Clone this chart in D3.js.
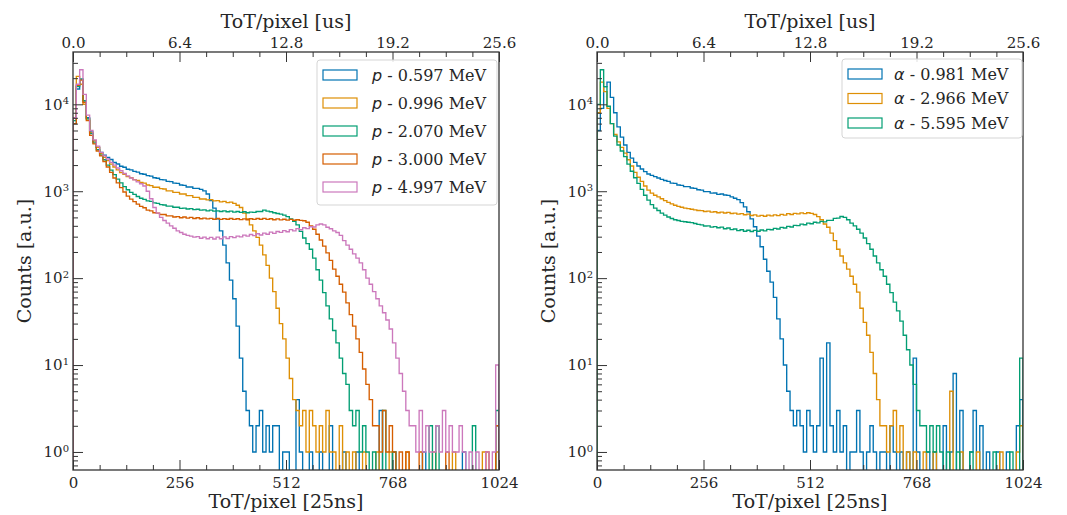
<!DOCTYPE html>
<html>
<head>
<meta charset="utf-8">
<script src="https://cdn.jsdelivr.net/npm/d3@7"></script>
<style>
body { margin: 0; background: #fff; }
text { font-family: "DejaVu Serif", serif; fill: #262626; }
</style>
</head>
<body>
<svg id="chart" width="1067" height="515"></svg>
<script>
// histogram bins are 8 ToT units wide, 128 bins from 0 to 1024
var BIN_WIDTH = 8;
var xTicks = [0, 256, 512, 768, 1024];
var xTopLabels = ["0.0", "6.4", "12.8", "19.2", "25.6"];
var yTicks = [1, 10, 100, 1000, 10000];

// protons (left panel)
var p0597 = [
    6000, 15000, 19500, 11000, 7000, 4800, 3800, 3200, 2800, 2600,
    2450, 2320, 2140, 2060, 1940, 1890, 1790, 1760, 1690, 1660,
    1590, 1570, 1510, 1490, 1430, 1410, 1360, 1350, 1300, 1290,
    1240, 1230, 1180, 1170, 1120, 1120, 1080, 1080, 1050, 1010,
    930, 780, 640, 480, 350, 240, 150, 95, 58, 28,
    12, 5, 3, 2, 1, 2, 3, 1, 2, 1,
    2, 2, 0, 1, 1, 0, 0, 4, 1, 0,
    0, 1, 0, 0, 1, 0, 0, 2, 0, 0,
    0, 1, 0, 0, 0, 1, 0, 0, 0, 0,
    0, 0, 3, 0, 0, 0, 1, 0, 0, 0,
    0, 0, 0, 0, 0, 1, 0, 0, 0, 0,
    0, 0, 0, 0, 0, 0, 0, 1, 0, 0,
    0, 0, 0, 0, 0, 0, 0, 2];
var p0996 = [
    7000, 21000, 17000, 10000, 6800, 4700, 3800, 3200, 2700, 2450,
    2250, 2050, 1900, 1760, 1640, 1570, 1470, 1430, 1360, 1330,
    1260, 1240, 1180, 1160, 1110, 1110, 1070, 1060, 1010, 1010,
    970, 970, 930, 930, 890, 890, 850, 850, 815, 815,
    795, 800, 775, 780, 755, 765, 740, 750, 725, 690,
    650, 560, 480, 410, 350, 295, 240, 185, 140, 100,
    70, 45, 30, 20, 12, 7, 4, 3, 2, 3,
    1, 3, 2, 1, 2, 1, 3, 1, 1, 0,
    2, 0, 1, 0, 1, 0, 0, 1, 0, 0,
    0, 1, 0, 0, 0, 1, 0, 0, 0, 0,
    1, 0, 0, 0, 0, 0, 0, 0, 1, 0,
    0, 0, 0, 0, 1, 0, 0, 0, 0, 0,
    0, 0, 0, 1, 0, 0, 0, 1];
var p2070 = [
    6500, 16000, 19500, 11000, 6800, 4600, 3600, 3000, 2600, 2300,
    2000, 1750, 1550, 1380, 1250, 1130, 1040, 970, 920, 870,
    830, 805, 775, 765, 735, 725, 700, 695, 675, 675,
    655, 655, 635, 640, 625, 630, 615, 620, 605, 610,
    595, 605, 590, 595, 585, 595, 580, 590, 575, 585,
    570, 580, 565, 575, 570, 585, 585, 605, 590, 580,
    565, 555, 545, 530, 510, 480, 450, 410, 345, 290,
    250, 215, 170, 125, 95, 68, 48, 34, 25, 18,
    12, 8, 6, 3, 2, 3, 1, 2, 1, 0,
    1, 0, 0, 3, 0, 0, 1, 0, 0, 0,
    0, 0, 0, 0, 0, 0, 0, 2, 0, 2,
    0, 0, 0, 0, 0, 0, 0, 0, 0, 0,
    2, 0, 0, 0, 0, 0, 0, 3];
var p3000 = [
    6000, 16500, 19000, 10500, 6500, 4400, 3500, 2900, 2550, 2200,
    1900, 1650, 1420, 1250, 1100, 980, 880, 810, 760, 710,
    670, 645, 605, 595, 565, 560, 540, 540, 520, 520,
    505, 510, 495, 505, 490, 500, 485, 495, 482, 490,
    480, 488, 476, 486, 474, 484, 476, 486, 474, 482,
    472, 480, 470, 482, 474, 486, 476, 488, 474, 482,
    470, 480, 468, 476, 466, 474, 464, 470, 462, 458,
    440, 400, 365, 320, 275, 234, 195, 160, 127, 105,
    85, 69, 52, 38, 28, 20, 14, 9, 6, 4,
    2, 2, 1, 3, 1, 2, 1, 0, 1, 0,
    1, 0, 0, 0, 1, 0, 0, 0, 0, 0,
    0, 0, 1, 0, 0, 0, 0, 0, 0, 0,
    0, 0, 0, 0, 1, 0, 0, 2];
var p4997 = [
    7000, 17000, 25000, 13000, 7500, 5000, 3900, 3300, 2800, 2550,
    2350, 2150, 2000, 1850, 1720, 1600, 1500, 1420, 1350, 1280,
    1220, 1150, 1000, 820, 650, 560, 500, 460, 430, 400,
    375, 350, 335, 320, 310, 305, 296, 300, 288, 296,
    284, 294, 282, 296, 284, 298, 286, 300, 292, 304,
    298, 312, 304, 318, 308, 324, 314, 330, 320, 338,
    328, 344, 336, 352, 342, 362, 350, 372, 360, 380,
    372, 390, 388, 410, 420, 410, 385, 370, 350, 335,
    310, 270, 240, 215, 190, 170, 150, 125, 100, 85,
    70, 58, 48, 40, 33, 26, 18, 12, 8, 5,
    3, 2, 2, 1, 3, 1, 2, 1, 1, 2,
    1, 3, 1, 2, 1, 1, 2, 1, 0, 1,
    0, 1, 0, 0, 1, 0, 1, 10];

// alphas (right panel)
var a0981 = [
    5000, 9000, 16000, 18000, 12000, 8000, 5500, 4200, 3400, 2800,
    2400, 2150, 1950, 1800, 1680, 1580, 1520, 1470, 1420, 1370,
    1330, 1300, 1240, 1230, 1180, 1170, 1130, 1130, 1090, 1080,
    1040, 1030, 990, 990, 950, 955, 920, 930, 905, 895,
    860, 830, 800, 740, 660, 580, 480, 390, 305, 230,
    165, 120, 90, 60, 34, 20, 10, 5, 3, 2,
    3, 2, 1, 3, 2, 1, 2, 12, 1, 18,
    2, 1, 3, 1, 2, 0, 1, 1, 3, 1,
    0, 1, 2, 1, 0, 1, 1, 0, 2, 1,
    0, 1, 0, 1, 0, 12, 1, 0, 0, 1,
    0, 1, 0, 0, 2, 0, 1, 8, 0, 3,
    0, 0, 1, 3, 0, 2, 0, 1, 0, 0,
    1, 0, 0, 1, 0, 0, 2, 4];
var a2966 = [
    8000, 18000, 14000, 9000, 6000, 4500, 3700, 3200, 2750, 2300,
    1950, 1650, 1450, 1300, 1150, 1030, 950, 900, 860, 820,
    780, 745, 715, 690, 670, 655, 640, 630, 620, 610,
    600, 598, 585, 590, 575, 580, 566, 574, 562, 570,
    554, 560, 545, 552, 536, 545, 526, 535, 518, 528,
    516, 530, 520, 534, 524, 542, 532, 552, 540, 556,
    548, 564, 552, 566, 556, 540, 510, 470, 420, 385,
    330, 270, 215, 180, 150, 127, 105, 85, 69, 45,
    31, 22, 14, 8, 4, 2, 2, 1, 2, 3,
    1, 2, 0, 1, 0, 1, 0, 0, 1, 0,
    0, 1, 0, 0, 0, 0, 5, 0, 0, 1,
    0, 0, 0, 0, 1, 0, 0, 0, 0, 0,
    0, 1, 0, 0, 0, 0, 1, 2];
var a5595 = [
    10000, 25000, 16000, 9500, 6000, 4300, 3400, 2900, 2500, 2050,
    1700, 1430, 1230, 1050, 900, 790, 700, 640, 600, 560,
    530, 505, 485, 470, 460, 450, 445, 440, 435, 425,
    415, 410, 398, 400, 386, 392, 380, 386, 370, 378,
    362, 368, 352, 360, 346, 356, 344, 354, 346, 358,
    350, 364, 360, 374, 368, 384, 378, 394, 388, 404,
    402, 418, 412, 430, 422, 440, 432, 450, 444, 462,
    462, 488, 490, 512, 500, 470, 430, 400, 365, 330,
    290, 250, 215, 180, 150, 125, 105, 85, 68, 53,
    42, 32, 22, 15, 10, 6, 3, 2, 2, 1,
    2, 1, 2, 1, 0, 1, 0, 0, 1, 0,
    0, 0, 1, 0, 0, 0, 0, 0, 0, 1,
    0, 0, 0, 0, 1, 0, 0, 12];

var protonLabels = ["0.597", "0.996", "2.070", "3.000", "4.997"];
var alphaLabels = ["0.981", "2.966", "5.595"];
var palette = ["#0173b2", "#de8f05", "#029e73", "#d55e00", "#cc78bc"];

var H = 418, W = 426, TOP = 52;
var svg = d3.select("#chart");

function stepPath(values, x, y) {
    // matplotlib-like histtype="step" outline, zero bins drop below the frame
    var yv = function(v) { return v > 0 ? y(v) : H + 20; };
    var p = "M" + x(0) + "," + (H + 20);
    for (var i = 0; i < values.length; i++) {
        p += "L" + x(i * BIN_WIDTH) + "," + yv(values[i]);
        p += "L" + x((i + 1) * BIN_WIDTH) + "," + yv(values[i]);
    }
    p += "L" + x(values.length * BIN_WIDTH) + "," + (H + 20);
    return p;
}

function drawPanel(cfg) {
    var g = svg.append("g").attr("transform", "translate(" + cfg.left + "," + TOP + ")");

    var x = d3.scaleLinear().domain([0, 1024]).range([0, W]);
    var y = d3.scaleLog().domain([0.62, 40000]).range([H, 0]);

    g.append("clipPath").attr("id", "clip" + cfg.id)
        .append("rect").attr("width", W).attr("height", H);

    // histograms
    g.append("g").attr("clip-path", "url(#clip" + cfg.id + ")")
        .selectAll("path")
        .data(cfg.series)
        .enter()
        .append("path")
        .attr("d", function(d) { return stepPath(d, x, y); })
        .attr("fill", "none")
        .attr("stroke", function(d, i) { return palette[i]; })
        .attr("stroke-width", 1.35)
        .attr("stroke-linejoin", "miter");

    var minorX = d3.range(0, 1025, 64).filter(function(v) { return v % 256 != 0; });
    var minorY = [];
    for (var k = -1; k <= 4; k++) {
        for (var m = 2; m <= 9; m++) {
            var v = m * Math.pow(10, k);
            if (v > 0.62 && v < 40000) minorY.push(v);
        }
    }

    // bottom axis
    g.append("g").attr("class", "axis").attr("transform", "translate(0," + H + ")")
        .call(d3.axisBottom(x).tickValues(xTicks).tickSize(-10).tickPadding(7).tickFormat(d3.format("d")));
    g.append("g").attr("class", "axis").attr("transform", "translate(0," + H + ")")
        .call(d3.axisBottom(x).tickValues(minorX).tickSize(-5).tickFormat(""));

    // top axis in microseconds (25 ns per count)
    g.append("g").attr("class", "axis")
        .call(d3.axisTop(x).tickValues(xTicks).tickSize(-10).tickPadding(4)
            .tickFormat(function(d, i) { return xTopLabels[i]; }));
    g.append("g").attr("class", "axis")
        .call(d3.axisTop(x).tickValues(minorX).tickSize(-5).tickFormat(""));

    // left log axis
    var yAxis = g.append("g").attr("class", "axis")
        .call(d3.axisLeft(y).tickValues(yTicks).tickSize(-10).tickPadding(4).tickFormat(""));
    g.append("g").attr("class", "axis")
        .call(d3.axisLeft(y).tickValues(minorY).tickSize(-5).tickFormat(""));

    yAxis.selectAll(".tick text")
        .attr("dy", "0.32em")
        .each(function(d) {
            var t = d3.select(this);
            t.text("10");
            t.append("tspan").attr("dy", "-0.55em").attr("font-size", "10px")
                .text(Math.round(Math.log10(d)));
        });

    g.selectAll(".axis .domain").remove();
    g.selectAll(".axis line").attr("stroke", "#333").attr("stroke-width", 1);
    g.selectAll(".axis text").attr("font-size", "15px").attr("font-family", "DejaVu Serif").attr("fill", "#262626");

    // frame
    g.append("rect").attr("width", W).attr("height", H)
        .attr("fill", "none").attr("stroke", "#333").attr("stroke-width", 1.3);

    // axis titles
    g.append("text").attr("x", W / 2).attr("y", H + 38).attr("text-anchor", "middle")
        .attr("font-size", "19px").text("ToT/pixel [25ns]");
    g.append("text").attr("x", W / 2).attr("y", -24).attr("text-anchor", "middle")
        .attr("font-size", "19px").text("ToT/pixel [us]");
    g.append("text").attr("transform", "translate(" + (-42) + "," + (H / 2) + ") rotate(-90)")
        .attr("text-anchor", "middle").attr("font-size", "19px").text("Counts [a.u.]");

    // legend
    var lg = cfg.legend;
    var leg = g.append("g").attr("transform", "translate(" + lg.x + "," + lg.y + ")");
    leg.append("rect").attr("width", lg.w).attr("height", lg.h).attr("rx", 3)
        .attr("fill", "white").attr("fill-opacity", 0.85)
        .attr("stroke", "#d5d5d5").attr("stroke-width", 1);
    var items = leg.selectAll("g.item")
        .data(cfg.labels)
        .enter()
        .append("g")
        .attr("transform", function(d, i) { return "translate(0," + (lg.first + i * lg.step) + ")"; });
    items.append("rect")
        .attr("x", 6).attr("y", -5).attr("width", 34).attr("height", 10)
        .attr("fill", "none")
        .attr("stroke", function(d, i) { return palette[i]; })
        .attr("stroke-width", 1.2);
    var lt = items.append("text").attr("x", lg.tx).attr("y", 5.5).attr("font-size", "16px");
    lt.append("tspan").attr("font-family", "DejaVu Sans").attr("font-style", "italic").text(cfg.symbol);
    lt.append("tspan").text(function(d) { return " - " + d + " MeV"; });
}

drawPanel({
    id: "p", left: 73,
    series: [p0597, p0996, p2070, p3000, p4997],
    labels: protonLabels, symbol: "p",
    legend: { x: 244, y: 8, w: 180, h: 145, first: 15, step: 28, tx: 55 }
});
drawPanel({
    id: "a", left: 597,
    series: [a0981, a2966, a5595],
    labels: alphaLabels, symbol: "\u03b1",
    legend: { x: 245, y: 7, w: 180, h: 79, first: 15, step: 24.5, tx: 52 }
});
</script>
</body>
</html>
